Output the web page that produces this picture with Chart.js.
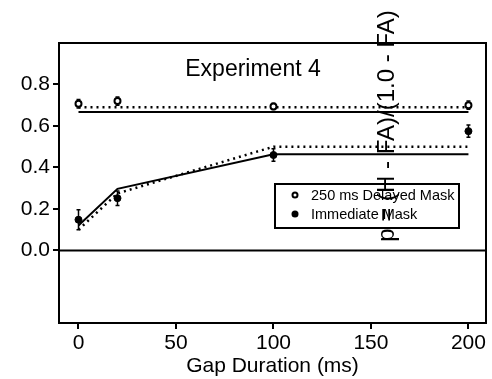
<!DOCTYPE html>
<html>
<head>
<meta charset="utf-8">
<script src="https://cdn.jsdelivr.net/npm/chart.js@4/dist/chart.umd.min.js"></script>
<style>
  body { margin: 0; background: #fff; }
  #wrap { width: 492px; height: 379px; }
</style>
</head>
<body>
<div id="wrap"><canvas id="chart"></canvas></div>
<script>
// gap durations (ms)
const gaps = [0, 20, 100, 200];
// observed means and error half-widths
const delayedMean = [0.707, 0.72, 0.694, 0.70];
const delayedErr = [0.02, 0.02, 0.015, 0.02];
const immediateMean = [0.148, 0.252, 0.46, 0.575];
const immediateErr = [0.048, 0.035, 0.03, 0.03];
// model fits (dotted / solid)
const delayedDotted = [0.69, 0.69, 0.69, 0.69];
const delayedSolid = [0.667, 0.667, 0.667, 0.667];
const immediateDotted = [0.10, 0.275, 0.50, 0.50];
const immediateSolid = [0.12, 0.297, 0.464, 0.464];

const xTicks = [0, 50, 100, 150, 200];
const yTicks = [0, 0.2, 0.4, 0.6, 0.8];

const FONT = '"Liberation Sans", Arial, sans-serif';
const pts = ys => gaps.map((g, i) => ({ x: g, y: ys[i] }));

const decor = {
    id: 'decor',
    beforeDatasetsDraw(chart) {
        const { ctx, chartArea: a, scales: { x, y } } = chart;
        ctx.save();
        ctx.strokeStyle = '#000';
        ctx.lineWidth = 2;
        // zero line
        ctx.beginPath();
        ctx.moveTo(a.left, y.getPixelForValue(0));
        ctx.lineTo(a.right, y.getPixelForValue(0));
        ctx.stroke();
        // error bars
        ctx.lineWidth = 1.5;
        const bars = (m, e) => gaps.forEach((g, i) => {
            const px = x.getPixelForValue(g);
            const t = y.getPixelForValue(m[i] + e[i]);
            const b = y.getPixelForValue(m[i] - e[i]);
            ctx.beginPath();
            ctx.moveTo(px, t); ctx.lineTo(px, b);
            ctx.moveTo(px - 2, t); ctx.lineTo(px + 2, t);
            ctx.moveTo(px - 2, b); ctx.lineTo(px + 2, b);
            ctx.stroke();
        });
        bars(delayedMean, delayedErr);
        bars(immediateMean, immediateErr);
        ctx.restore();
    },
    afterDraw(chart) {
        const { ctx, chartArea: a } = chart;
        ctx.save();
        ctx.strokeStyle = '#000';
        ctx.fillStyle = '#000';
        ctx.lineWidth = 2;
        // top and right frame
        ctx.beginPath();
        ctx.moveTo(a.left, a.top);
        ctx.lineTo(a.right, a.top);
        ctx.lineTo(a.right, a.bottom);
        ctx.stroke();

        // panel title
        ctx.font = '23px ' + FONT;
        ctx.textAlign = 'center';
        ctx.textBaseline = 'middle';
        ctx.fillText('Experiment 4', 253, 70);

        // legend box
        ctx.fillStyle = '#fff';
        ctx.fillRect(275, 184, 184, 44);
        ctx.strokeRect(275, 184, 184, 44);
        ctx.fillStyle = '#000';
        ctx.font = '14.5px ' + FONT;
        ctx.textAlign = 'left';
        ctx.beginPath();
        ctx.arc(295, 195, 2.5, 0, Math.PI * 2);
        ctx.stroke();
        ctx.beginPath();
        ctx.arc(295, 214, 3.5, 0, Math.PI * 2);
        ctx.fill();
        ctx.fillText(chart.data.datasets[0].label, 311, 196);
        ctx.fillText(chart.data.datasets[1].label, 311, 215);

        // y axis title (drawn across the plot, as in the original)
        ctx.translate(387, 126);
        ctx.rotate(-Math.PI / 2);
        ctx.font = '24px ' + FONT;
        ctx.textAlign = 'center';
        ctx.fillText('p = (H - FA)/(1.0 - FA)', 0, 0);
        ctx.restore();
    }
};

new Chart(document.getElementById('chart'), {
    type: 'scatter',
    data: {
        datasets: [
            {
                label: '250 ms Delayed Mask',
                data: pts(delayedMean),
                pointStyle: 'circle',
                pointRadius: 3,
                borderWidth: 2,
                borderColor: '#000',
                backgroundColor: '#fff',
                showLine: false
            },
            {
                label: 'Immediate Mask',
                data: pts(immediateMean),
                pointRadius: 3.5,
                borderColor: '#000',
                backgroundColor: '#000',
                showLine: false
            },
            { label: 'delayed fit 1', data: pts(delayedDotted), showLine: true, borderDash: [2, 4], borderWidth: 2.5, borderColor: '#000', pointRadius: 0 },
            { label: 'delayed fit 2', data: pts(delayedSolid), showLine: true, borderWidth: 2, borderColor: '#000', pointRadius: 0 },
            { label: 'immediate fit 1', data: pts(immediateDotted), showLine: true, borderDash: [2, 4], borderWidth: 2.5, borderColor: '#000', pointRadius: 0 },
            { label: 'immediate fit 2', data: pts(immediateSolid), showLine: true, borderWidth: 2, borderColor: '#000', pointRadius: 0 }
        ]
    },
    options: {
        responsive: true,
        maintainAspectRatio: false,
        animation: false,
        layout: { padding: { left: 0, top: 43, right: 2, bottom: 0 } },
        plugins: {
            legend: { display: false },
            tooltip: { enabled: false }
        },
        scales: {
            x: {
                type: 'linear',
                min: -10,
                max: 209,
                afterBuildTicks: s => { s.ticks = xTicks.map(v => ({ value: v })); },
                afterFit: s => { s.height = 56; },
                grid: { drawOnChartArea: false, color: '#000', lineWidth: 2, tickLength: 6 },
                border: { color: '#000', width: 2 },
                ticks: { color: '#000', font: { family: FONT, size: 21 }, padding: 2, maxRotation: 0 },
                title: { display: true, text: 'Gap Duration (ms)', color: '#000', font: { family: FONT, size: 21 }, padding: { top: 0, bottom: 0 } }
            },
            y: {
                type: 'linear',
                min: -0.35,
                max: 1.0,
                afterBuildTicks: s => { s.ticks = yTicks.map(v => ({ value: v })); },
                afterFit: s => { s.width = 59; },
                grid: { drawOnChartArea: false, color: '#000', lineWidth: 2, tickLength: 6 },
                border: { color: '#000', width: 2 },
                ticks: { color: '#000', font: { family: FONT, size: 21 }, padding: 3, callback: v => v.toFixed(1) }
            }
        }
    },
    plugins: [decor]
});
</script>
</body>
</html>
